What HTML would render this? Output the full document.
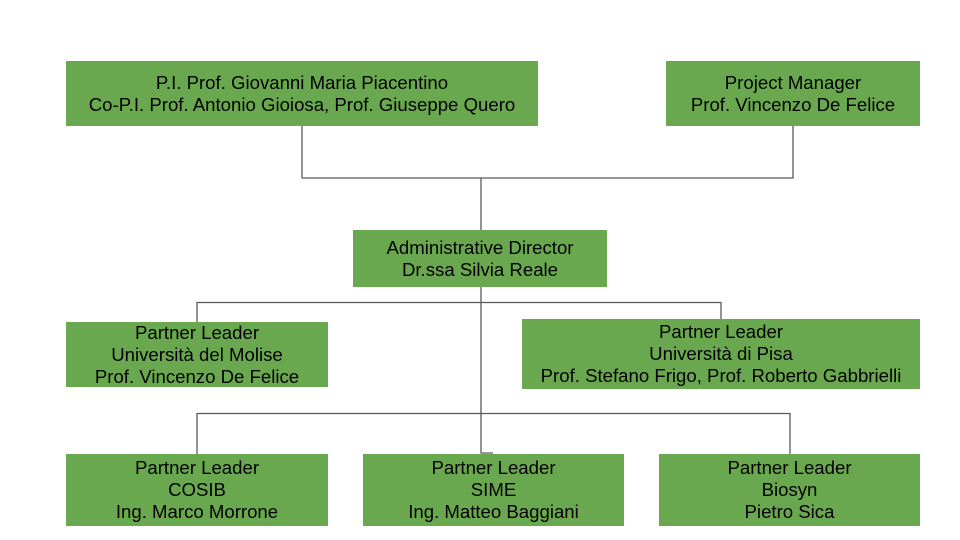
<!DOCTYPE html>
<html><head><meta charset="utf-8"><style>
body{margin:0;width:960px;height:540px;background:#fff;position:relative;overflow:hidden;font-family:"Liberation Sans",Arial,sans-serif}
.b{position:absolute;background:#6aa84f;color:#000;font-size:18.6px;line-height:22px;display:flex;flex-direction:column;justify-content:center;align-items:center;text-align:center;white-space:nowrap}
svg{position:absolute;left:0;top:0}
</style></head><body>
<svg width="960" height="540"><g stroke="#595959" stroke-width="1.3" fill="none">
<path d="M302 126V178H793V126M481 178V230"/>
<path d="M481 287V453H493"/>
<path d="M197 322V302.5H721V319"/>
<path d="M197 454V413.5H790V454"/>
</g></svg>
<div class="b" style="left:66px;top:61px;width:472px;height:65px"><div>P.I. Prof. Giovanni Maria Piacentino</div><div>Co-P.I. Prof. Antonio Gioiosa, Prof. Giuseppe Quero</div></div>
<div class="b" style="left:666px;top:61px;width:254px;height:65px"><div>Project Manager</div><div>Prof. Vincenzo De Felice</div></div>
<div class="b" style="left:353px;top:230px;width:254px;height:57px"><div>Administrative Director</div><div>Dr.ssa Silvia Reale</div></div>
<div class="b" style="left:66px;top:322px;width:262px;height:65px"><div>Partner Leader</div><div>Università del Molise</div><div>Prof. Vincenzo De Felice</div></div>
<div class="b" style="left:522px;top:319px;width:398px;height:70px"><div>Partner Leader</div><div>Università di Pisa</div><div>Prof. Stefano Frigo, Prof. Roberto Gabbrielli</div></div>
<div class="b" style="left:66px;top:454px;width:262px;height:72px"><div>Partner Leader</div><div>COSIB</div><div>Ing. Marco Morrone</div></div>
<div class="b" style="left:363px;top:454px;width:261px;height:72px"><div>Partner Leader</div><div>SIME</div><div>Ing. Matteo Baggiani</div></div>
<div class="b" style="left:659px;top:454px;width:261px;height:72px"><div>Partner Leader</div><div>Biosyn</div><div>Pietro Sica</div></div>
</body></html>
